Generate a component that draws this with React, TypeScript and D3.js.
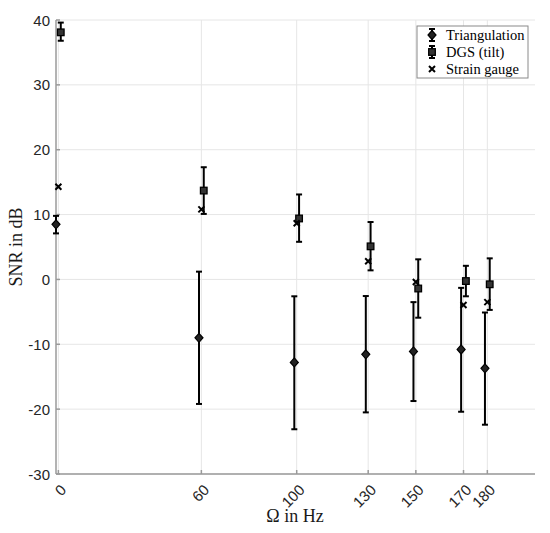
import React from "react";
import * as d3 from "d3";

// excitation frequencies (Hz)
const freqs = [0, 60, 100, 130, 150, 170, 180];

// triangulation: mean and error bar ends (dB)
const triMean = [8.5, -9.0, -12.8, -11.55, -11.1, -10.8, -13.7];
const triLow = [7.1, -19.2, -23.1, -20.5, -18.75, -20.4, -22.4];
const triHigh = [9.8, 1.2, -2.6, -2.56, -3.5, -1.3, -5.1];

// DGS (tilt)
const dgsMean = [38.1, 13.7, 9.4, 5.1, -1.4, -0.25, -0.75];
const dgsLow = [36.8, 10.1, 5.8, 1.4, -5.9, -2.6, -4.7];
const dgsHigh = [39.6, 17.3, 13.1, 8.85, 3.1, 2.1, 3.25];

// strain gauge
const strain = [14.3, 10.8, 8.65, 2.8, -0.4, -3.95, -3.5];

const xTicks = [0, 60, 100, 130, 150, 170, 180];
const yTicks = [-30, -20, -10, 0, 10, 20, 30, 40];
const legendLabels = ["Triangulation", "DGS (tilt)", "Strain gauge"];

// small horizontal shifts so the series don't overlap (Hz)
const triShift = -1;
const dgsShift = 1;

const W = 550, H = 533;
const left = 56, right = 535, top = 20, bottom = 474;

const sansFont = "Liberation Sans, Arial, sans-serif";
const serifFont = "Liberation Serif, Times New Roman, serif";

function ErrBar({ x, lo, hi }: { x: number; lo: number; hi: number }) {
  const c = 3;
  return (
    <g stroke="#000" strokeWidth={2}>
      <line x1={x} x2={x} y1={hi} y2={lo} />
      <line x1={x - c} x2={x + c} y1={hi} y2={hi} />
      <line x1={x - c} x2={x + c} y1={lo} y2={lo} />
    </g>
  );
}

const Diamond = ({ x, y }: { x: number; y: number }) => (
  <path d={`M${x},${y - 4.5}L${x + 4},${y}L${x},${y + 4.5}L${x - 4},${y}Z`} fill="#222" stroke="#000" strokeWidth={1.2} />
);
const Square = ({ x, y }: { x: number; y: number }) => (
  <rect x={x - 3.3} y={y - 3.3} width={6.6} height={6.6} fill="#333" stroke="#000" strokeWidth={1.3} />
);
const Cross = ({ x, y }: { x: number; y: number }) => (
  <path d={`M${x - 3},${y - 3}L${x + 3},${y + 3}M${x - 3},${y + 3}L${x + 3},${y - 3}`} stroke="#000" strokeWidth={2} />
);

export default function App() {
  const x = d3.scaleLinear().domain([-1, 200]).range([left, right]);
  const y = d3.scaleLinear().domain([-30, 40]).range([bottom, top]);

  return (
    <svg width={W} height={H} style={{ position: "absolute", left: 0, top: 0, background: "#fff" }}>
      {/* grid */}
      <g stroke="#e6e6e6" strokeWidth={1}>
        {xTicks.map(t => <line key={"gx" + t} x1={x(t)} x2={x(t)} y1={top} y2={bottom} />)}
        {yTicks.map(t => <line key={"gy" + t} x1={left} x2={right} y1={y(t)} y2={y(t)} />)}
      </g>

      {/* axes */}
      <g stroke="#9a9a9a" strokeWidth={1.5}>
        <line x1={left} x2={left} y1={top} y2={bottom} />
        <line x1={left} x2={right} y1={bottom} y2={bottom} />
        {xTicks.map(t => <line key={"tx" + t} x1={x(t)} x2={x(t)} y1={bottom} y2={bottom - 4} />)}
        {yTicks.map(t => <line key={"ty" + t} x1={left} x2={left + 4} y1={y(t)} y2={y(t)} />)}
      </g>

      {/* tick labels */}
      <g style={{ fontFamily: sansFont }} fontSize={15} fill="#262626">
        {yTicks.map(t => (
          <text key={"ly" + t} x={left - 6} y={y(t)} textAnchor="end" dominantBaseline="central">{t}</text>
        ))}
        {xTicks.map(t => (
          <text key={"lx" + t} transform={`translate(${x(t) + 5},${bottom + 13}) rotate(-45)`} textAnchor="end" dominantBaseline="central">{t}</text>
        ))}
      </g>

      {/* axis titles */}
      <g style={{ fontFamily: serifFont }} fontSize={18} fill="#1a1a1a">
        <text x={295} y={522} textAnchor="middle">Ω in Hz</text>
        <text transform={`translate(22,${(top + bottom) / 2}) rotate(-90)`} textAnchor="middle">SNR in dB</text>
      </g>

      {/* triangulation */}
      {freqs.map((f, i) => (
        <g key={"tri" + i}>
          <ErrBar x={x(f + triShift)} lo={y(triLow[i])} hi={y(triHigh[i])} />
          <Diamond x={x(f + triShift)} y={y(triMean[i])} />
        </g>
      ))}
      {/* DGS */}
      {freqs.map((f, i) => (
        <g key={"dgs" + i}>
          <ErrBar x={x(f + dgsShift)} lo={y(dgsLow[i])} hi={y(dgsHigh[i])} />
          <Square x={x(f + dgsShift)} y={y(dgsMean[i])} />
        </g>
      ))}
      {/* strain gauge */}
      {freqs.map((f, i) => <Cross key={"sg" + i} x={x(f)} y={y(strain[i])} />)}

      {/* legend */}
      <g>
        <rect x={417} y={26} width={111} height={52} fill="#fff" stroke="#8a8a8a" strokeWidth={1} />
        {legendLabels.map((lab, i) => {
          const ly = 35 + i * 17;
          const mx = 432;
          return (
            <g key={lab}>
              {i < 2 && <ErrBar x={mx} lo={ly + 6} hi={ly - 6} />}
              {i === 0 && <Diamond x={mx} y={ly} />}
              {i === 1 && <Square x={mx} y={ly} />}
              {i === 2 && <Cross x={mx} y={ly} />}
              <text x={446} y={ly} dominantBaseline="central" style={{ fontFamily: serifFont }} fontSize={14.5} fill="#000">{lab}</text>
            </g>
          );
        })}
      </g>
    </svg>
  );
}
